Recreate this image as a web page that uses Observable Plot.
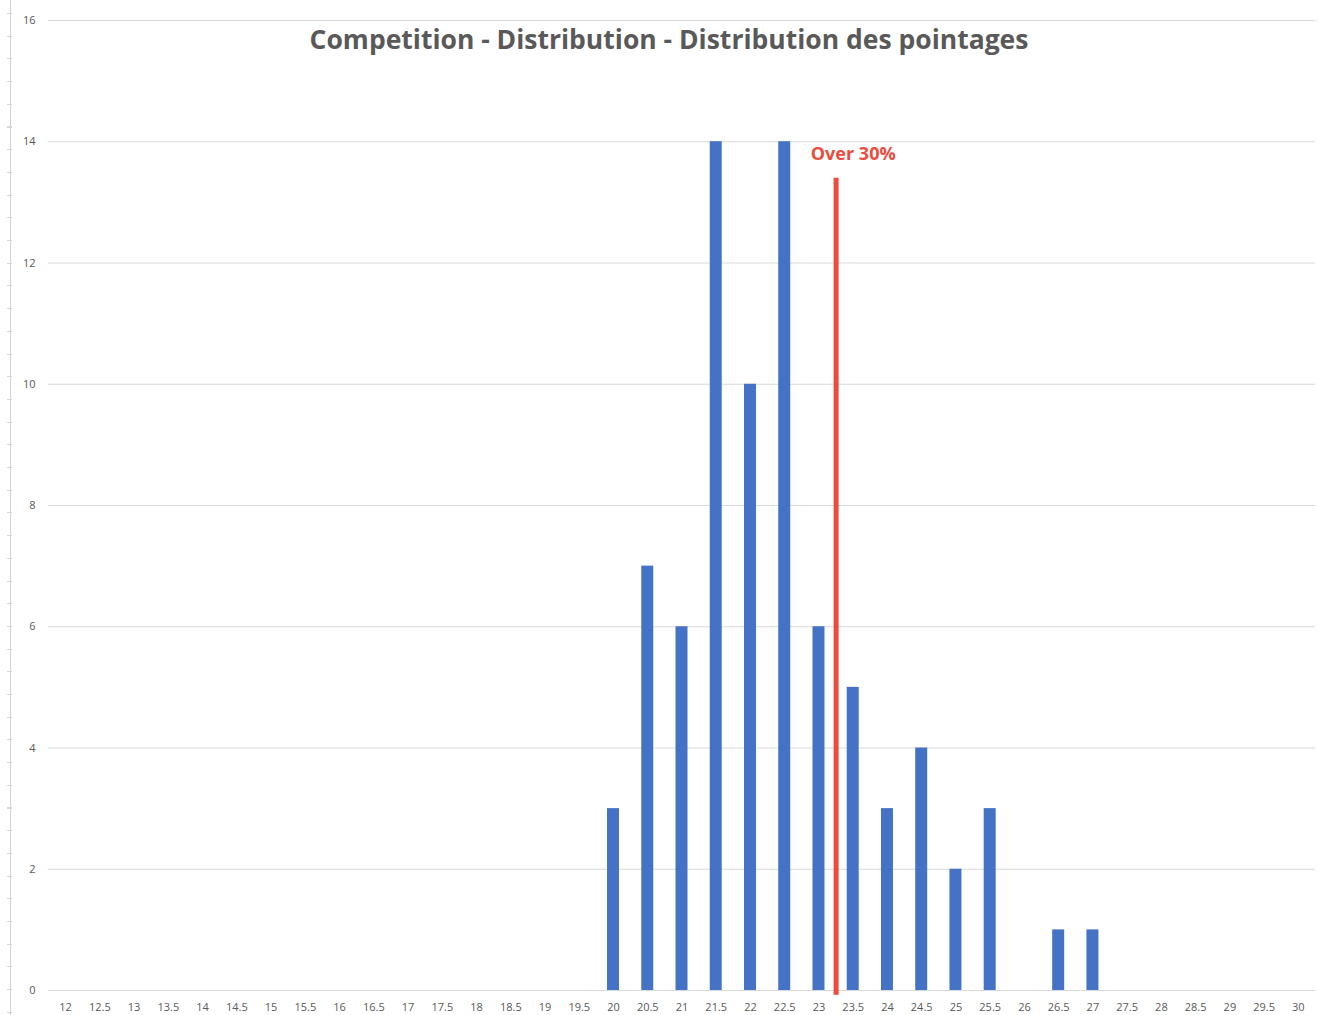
<!DOCTYPE html>
<html>
<head>
<meta charset="utf-8">
<script src="https://cdn.jsdelivr.net/npm/d3@7"></script>
<script src="https://cdn.jsdelivr.net/npm/@observablehq/plot@0.6"></script>
<style>
  html, body { margin: 0; padding: 0; background: #fff; }
  #wrap { position: relative; width: 1319px; height: 1015px; }
  #ruler { position: absolute; left: 10px; top: 0; bottom: 0; width: 0; border-left: 1px solid #d0d0d0; }
  #rticks { position: absolute; left: 7px; top: 13px; bottom: 0; width: 5px;
    background: repeating-linear-gradient(to bottom, #d6d6d6 0px, #d6d6d6 1px, transparent 1px, transparent 22.7px); }
  #chart { position: absolute; left: 0; top: 0; }
</style>
</head>
<body>
<div id="wrap"><div id="ruler"></div><div id="rticks"></div><div id="chart"></div></div>
<script>
// Scores (categories) and counts
const scores = [12,12.5,13,13.5,14,14.5,15,15.5,16,16.5,17,17.5,18,18.5,19,19.5,20,20.5,21,21.5,22,22.5,23,23.5,24,24.5,25,25.5,26,26.5,27,27.5,28,28.5,29,29.5,30];
const counts = [0,0,0,0,0,0,0,0,0,0,0,0,0,0,0,0,3,7,6,14,10,14,6,5,3,4,2,3,0,1,1,0,0,0,0,0,0];
const yTicks = [0,2,4,6,8,10,12,14,16];
const titleText = "Competition - Distribution - Distribution des pointages";
const thresholdScore = 23.25;
const thresholdTop = 13.4;
const thresholdLabel = "Over 30%";

const data = scores.map((s, i) => ({score: s, count: counts[i]})).filter(d => d.count > 0);
const halfW = 0.0875;

const chart = Plot.plot({
  width: 1319,
  height: 1015,
  marginLeft: 48,
  marginRight: 4,
  marginTop: 20,
  marginBottom: 25,
  style: {fontFamily: "'Open Sans', sans-serif", fontSize: "11px", color: "#595959", background: "transparent"},
  x: {domain: [11.75, 30.25], ticks: scores, tickFormat: d => String(d), tickSize: 0, tickPadding: 13, label: null},
  y: {domain: [0, 16], ticks: yTicks, tickSize: 0, tickPadding: 13, label: null},
  marks: [
    Plot.gridY(yTicks, {stroke: "#d9d9d9", strokeOpacity: 1, strokeWidth: 1}),
    Plot.rectY(data, {x1: d => d.score - halfW, x2: d => d.score + halfW, y1: 0, y2: "count", fill: "#4472C4"}),
    Plot.ruleX([thresholdScore], {y1: -0.08, y2: thresholdTop, stroke: "#EA4C3E", strokeWidth: 5}),
    Plot.text([thresholdLabel], {x: thresholdScore + 0.25, y: 13.8, text: d => d, fill: "#EA4C3E", fontSize: 18, fontWeight: "bold", textAnchor: "middle"}),
    Plot.text([titleText], {frameAnchor: "top", dy: 10, dx: -13, text: d => d, fill: "#595959", fontSize: 26.5, fontWeight: "bold", textAnchor: "middle"})
  ]
});
document.getElementById("chart").append(chart);
</script>
</body>
</html>
